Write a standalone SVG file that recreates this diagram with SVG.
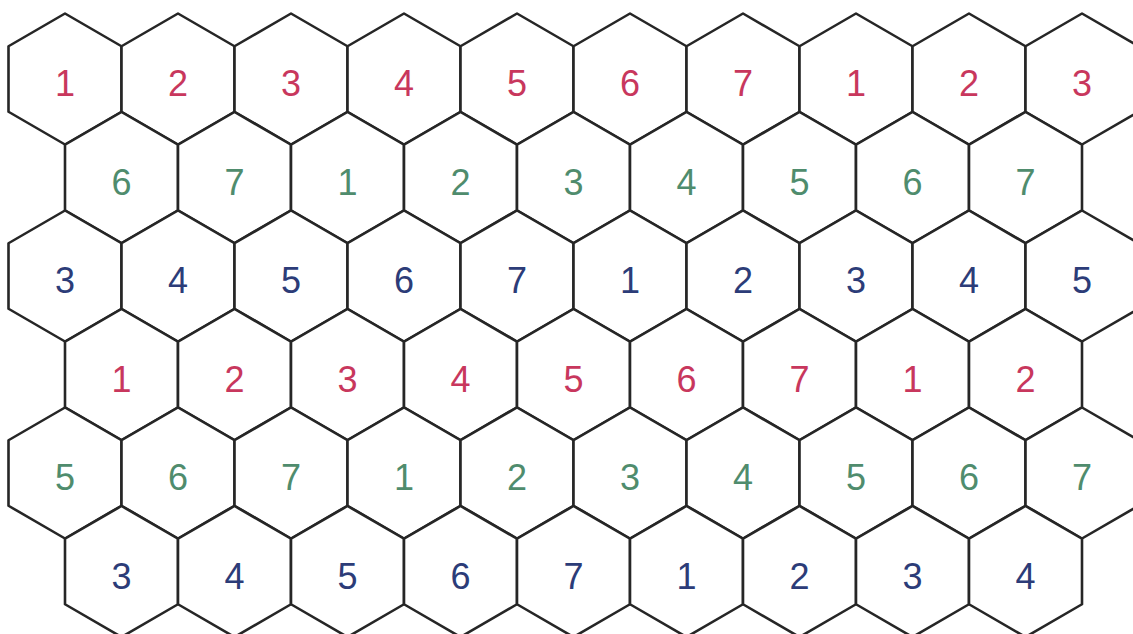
<svg xmlns="http://www.w3.org/2000/svg" xmlns:xlink="http://www.w3.org/1999/xlink" width="1133" height="634" viewBox="0 0 1133 634">
<style>
.h{fill:#fff;stroke:#262626;stroke-width:2.6;stroke-linejoin:round}
text{font-family:"Liberation Sans","DejaVu Sans",sans-serif;font-size:36px;text-anchor:middle}
.r{fill:#c8375d}
.g{fill:#4f8c6d}
.b{fill:#2c3c78}
</style>
<defs>
<polygon id="hex" points="0,-65.5 56.5,-32.75 56.5,32.75 0,65.5 -56.5,32.75 -56.5,-32.75"/>
</defs>
<rect width="1133" height="634" fill="#fff"/>
<g id="row0">
<g id="h0-0" transform="translate(65,79)"><use href="#hex" class="h"/><text class="r" y="17">1</text></g>
<g id="h0-1" transform="translate(178,79)"><use href="#hex" class="h"/><text class="r" y="17">2</text></g>
<g id="h0-2" transform="translate(291,79)"><use href="#hex" class="h"/><text class="r" y="17">3</text></g>
<g id="h0-3" transform="translate(404,79)"><use href="#hex" class="h"/><text class="r" y="17">4</text></g>
<g id="h0-4" transform="translate(517,79)"><use href="#hex" class="h"/><text class="r" y="17">5</text></g>
<g id="h0-5" transform="translate(630,79)"><use href="#hex" class="h"/><text class="r" y="17">6</text></g>
<g id="h0-6" transform="translate(743,79)"><use href="#hex" class="h"/><text class="r" y="17">7</text></g>
<g id="h0-7" transform="translate(856,79)"><use href="#hex" class="h"/><text class="r" y="17">1</text></g>
<g id="h0-8" transform="translate(969,79)"><use href="#hex" class="h"/><text class="r" y="17">2</text></g>
<g id="h0-9" transform="translate(1082,79)"><use href="#hex" class="h"/><text class="r" y="17">3</text></g>
</g>
<g id="row1">
<g id="h1-0" transform="translate(121.5,177.5)"><use href="#hex" class="h"/><text class="g" y="17">6</text></g>
<g id="h1-1" transform="translate(234.5,177.5)"><use href="#hex" class="h"/><text class="g" y="17">7</text></g>
<g id="h1-2" transform="translate(347.5,177.5)"><use href="#hex" class="h"/><text class="g" y="17">1</text></g>
<g id="h1-3" transform="translate(460.5,177.5)"><use href="#hex" class="h"/><text class="g" y="17">2</text></g>
<g id="h1-4" transform="translate(573.5,177.5)"><use href="#hex" class="h"/><text class="g" y="17">3</text></g>
<g id="h1-5" transform="translate(686.5,177.5)"><use href="#hex" class="h"/><text class="g" y="17">4</text></g>
<g id="h1-6" transform="translate(799.5,177.5)"><use href="#hex" class="h"/><text class="g" y="17">5</text></g>
<g id="h1-7" transform="translate(912.5,177.5)"><use href="#hex" class="h"/><text class="g" y="17">6</text></g>
<g id="h1-8" transform="translate(1025.5,177.5)"><use href="#hex" class="h"/><text class="g" y="17">7</text></g>
</g>
<g id="row2">
<g id="h2-0" transform="translate(65,276)"><use href="#hex" class="h"/><text class="b" y="17">3</text></g>
<g id="h2-1" transform="translate(178,276)"><use href="#hex" class="h"/><text class="b" y="17">4</text></g>
<g id="h2-2" transform="translate(291,276)"><use href="#hex" class="h"/><text class="b" y="17">5</text></g>
<g id="h2-3" transform="translate(404,276)"><use href="#hex" class="h"/><text class="b" y="17">6</text></g>
<g id="h2-4" transform="translate(517,276)"><use href="#hex" class="h"/><text class="b" y="17">7</text></g>
<g id="h2-5" transform="translate(630,276)"><use href="#hex" class="h"/><text class="b" y="17">1</text></g>
<g id="h2-6" transform="translate(743,276)"><use href="#hex" class="h"/><text class="b" y="17">2</text></g>
<g id="h2-7" transform="translate(856,276)"><use href="#hex" class="h"/><text class="b" y="17">3</text></g>
<g id="h2-8" transform="translate(969,276)"><use href="#hex" class="h"/><text class="b" y="17">4</text></g>
<g id="h2-9" transform="translate(1082,276)"><use href="#hex" class="h"/><text class="b" y="17">5</text></g>
</g>
<g id="row3">
<g id="h3-0" transform="translate(121.5,374.5)"><use href="#hex" class="h"/><text class="r" y="17">1</text></g>
<g id="h3-1" transform="translate(234.5,374.5)"><use href="#hex" class="h"/><text class="r" y="17">2</text></g>
<g id="h3-2" transform="translate(347.5,374.5)"><use href="#hex" class="h"/><text class="r" y="17">3</text></g>
<g id="h3-3" transform="translate(460.5,374.5)"><use href="#hex" class="h"/><text class="r" y="17">4</text></g>
<g id="h3-4" transform="translate(573.5,374.5)"><use href="#hex" class="h"/><text class="r" y="17">5</text></g>
<g id="h3-5" transform="translate(686.5,374.5)"><use href="#hex" class="h"/><text class="r" y="17">6</text></g>
<g id="h3-6" transform="translate(799.5,374.5)"><use href="#hex" class="h"/><text class="r" y="17">7</text></g>
<g id="h3-7" transform="translate(912.5,374.5)"><use href="#hex" class="h"/><text class="r" y="17">1</text></g>
<g id="h3-8" transform="translate(1025.5,374.5)"><use href="#hex" class="h"/><text class="r" y="17">2</text></g>
</g>
<g id="row4">
<g id="h4-0" transform="translate(65,473)"><use href="#hex" class="h"/><text class="g" y="17">5</text></g>
<g id="h4-1" transform="translate(178,473)"><use href="#hex" class="h"/><text class="g" y="17">6</text></g>
<g id="h4-2" transform="translate(291,473)"><use href="#hex" class="h"/><text class="g" y="17">7</text></g>
<g id="h4-3" transform="translate(404,473)"><use href="#hex" class="h"/><text class="g" y="17">1</text></g>
<g id="h4-4" transform="translate(517,473)"><use href="#hex" class="h"/><text class="g" y="17">2</text></g>
<g id="h4-5" transform="translate(630,473)"><use href="#hex" class="h"/><text class="g" y="17">3</text></g>
<g id="h4-6" transform="translate(743,473)"><use href="#hex" class="h"/><text class="g" y="17">4</text></g>
<g id="h4-7" transform="translate(856,473)"><use href="#hex" class="h"/><text class="g" y="17">5</text></g>
<g id="h4-8" transform="translate(969,473)"><use href="#hex" class="h"/><text class="g" y="17">6</text></g>
<g id="h4-9" transform="translate(1082,473)"><use href="#hex" class="h"/><text class="g" y="17">7</text></g>
</g>
<g id="row5">
<g id="h5-0" transform="translate(121.5,571.5)"><use href="#hex" class="h"/><text class="b" y="17">3</text></g>
<g id="h5-1" transform="translate(234.5,571.5)"><use href="#hex" class="h"/><text class="b" y="17">4</text></g>
<g id="h5-2" transform="translate(347.5,571.5)"><use href="#hex" class="h"/><text class="b" y="17">5</text></g>
<g id="h5-3" transform="translate(460.5,571.5)"><use href="#hex" class="h"/><text class="b" y="17">6</text></g>
<g id="h5-4" transform="translate(573.5,571.5)"><use href="#hex" class="h"/><text class="b" y="17">7</text></g>
<g id="h5-5" transform="translate(686.5,571.5)"><use href="#hex" class="h"/><text class="b" y="17">1</text></g>
<g id="h5-6" transform="translate(799.5,571.5)"><use href="#hex" class="h"/><text class="b" y="17">2</text></g>
<g id="h5-7" transform="translate(912.5,571.5)"><use href="#hex" class="h"/><text class="b" y="17">3</text></g>
<g id="h5-8" transform="translate(1025.5,571.5)"><use href="#hex" class="h"/><text class="b" y="17">4</text></g>
</g>
<g id="connectors"/>
</svg>
